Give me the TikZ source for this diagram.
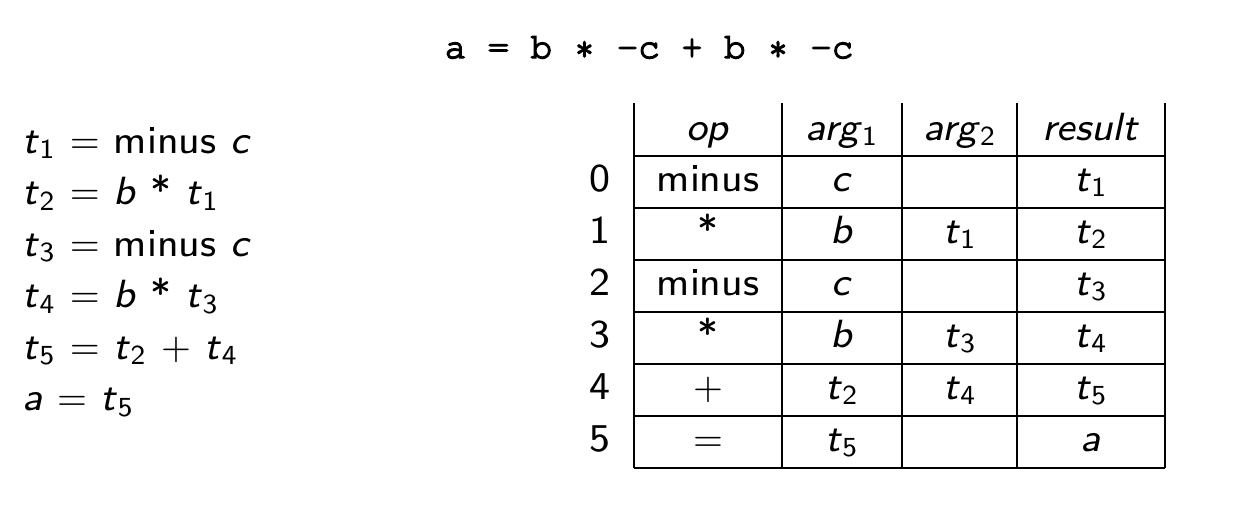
\documentclass[tikz,border=0pt]{standalone}
\usepackage{fontspec}
\setsansfont{lmsans8-regular.otf}[ItalicFont=lmsans8-oblique.otf]
\renewcommand{\familydefault}{\sfdefault}
\newcommand{\courier}{\fontencoding{T1}\fontfamily{pcr}\selectfont}
\newcommand{\heavier}[1]{\special{pdf:code 2 Tr 0.4 w}#1\special{pdf:code 0 Tr}}
\newcommand{\cstar}{\makebox[0.6em]{$\ast$}}
\newcommand{\tv}[1]{\textit{t}$_{\mathsf{#1}}$}
\tikzset{
	cell/.style={anchor=base,inner sep=0pt,font=\fontsize{11.2}{14}\selectfont},
	rule/.style={line width=0.8pt}
}
\begin{document}
\begin{tikzpicture}[x=0.1mm,y=-0.1mm]
		\useasboundingbox (0,0) rectangle (1246,510);
		\node[cell,font=\fontsize{10.2}{12}\courier] (code) at (649,58) {\heavier{a = b \cstar{} -c + b \cstar{} -c}};
		\foreach \txt [count=\i] in {{\tv{1} $=$ minus \textit{c}},{\tv{2} $=$ \textit{b} * \tv{1}},
			{\tv{3} $=$ minus \textit{c}},{\tv{4} $=$ \textit{b} * \tv{3}},
			{\tv{5} $=$ \tv{2} $+$ \tv{4}},{\textit{a} $=$ \tv{5}}}
		\node[cell,anchor=base west] (line\i) at (22,{153+51.5*(\i-1)}) {\txt};
		\foreach \x in {634,782,902,1017,1165}
		\draw[rule] (\x,103) -- (\x,468);
		\foreach \y in {156,208,260,312,364,416,468}
		\draw[rule] (634,\y) -- (1165,\y);
		\node[cell] (hop) at (708,140) {\textit{op}};
		\node[cell] (harga) at (842,140) {\textit{arg}$_{\mathsf{1}}$};
		\node[cell] (hargb) at (960,140) {\textit{arg}$_{\mathsf{2}}$};
		\node[cell] (hres) at (1091,140) {\textit{result}};
		\foreach \op/\aa/\ab/\res [count=\r from 0] in {minus/\textit{c}//\tv{1},*/\textit{b}/\tv{1}/\tv{2},
			minus/\textit{c}//\tv{3},*/\textit{b}/\tv{3}/\tv{4},$+$/\tv{2}/\tv{4}/\tv{5},$=$/\tv{5}//\textit{a}}{
			\node[cell] (idx\r) at (600,{191+52*\r}) {\r};
			\node[cell] (op\r) at (708,{191+52*\r}) {\op};
			\node[cell] (arga\r) at (842,{191+52*\r}) {\aa};
			\node[cell] (argb\r) at (960,{191+52*\r}) {\ab};
			\node[cell] (res\r) at (1091,{191+52*\r}) {\res};
		}
	\end{tikzpicture}
\end{document}
